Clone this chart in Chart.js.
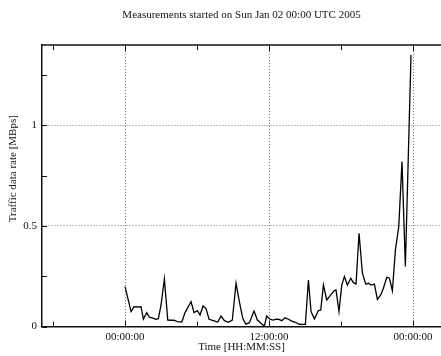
<!DOCTYPE html>
<html>
<head>
<meta charset="utf-8">
<script src="https://cdn.jsdelivr.net/npm/chart.js@4"></script>
<style>
  html, body { margin: 0; padding: 0; background: #fff; overflow: hidden; }
</style>
</head>
<body>
<canvas id="traffic" width="441" height="356"></canvas>
<script>
const chartTitle = 'Measurements started on Sun Jan 02 00:00 UTC 2005'
const xTitle = 'Time [HH:MM:SS]'
const yTitle = 'Traffic data rate [MBps]'

// hours since the first 00:00:00
const sampleHours = [
  0, 0.5, 0.75, 1.04, 1.33, 1.53, 1.81, 2.03, 2.33, 2.56, 2.78, 3.0, 3.28, 3.56, 3.83,
  4.08, 4.36, 4.73, 5.0, 5.5, 5.75, 6.03, 6.25, 6.5, 6.75, 7.0, 7.36, 7.73, 8.0, 8.28,
  8.61, 8.94, 9.25, 9.53, 9.81, 10.06, 10.36, 10.75, 11.03, 11.39, 11.61, 11.81, 12.08, 12.36, 12.58,
  12.78, 13.06, 13.33, 13.61, 13.89, 14.17, 14.53, 15.03, 15.28, 15.5, 15.78, 16.11, 16.31, 16.53, 16.81,
  17.08, 17.42, 17.58, 17.83, 18.06, 18.28, 18.53, 18.81, 19.03, 19.25, 19.5, 19.78, 20.06, 20.28, 20.5,
  20.78, 21.03, 21.31, 21.53, 21.81, 22.03, 22.28, 22.53, 22.81, 23.08, 23.36, 23.83
]
const rateMBps = [
  0.198, 0.074, 0.099, 0.097, 0.099, 0.037, 0.069, 0.046, 0.042, 0.036, 0.039, 0.107, 0.236, 0.032, 0.031,
  0.031, 0.024, 0.022, 0.069, 0.123, 0.069, 0.079, 0.057, 0.102, 0.089, 0.036, 0.029, 0.022, 0.052, 0.029,
  0.021, 0.032, 0.215, 0.123, 0.041, 0.012, 0.019, 0.077, 0.032, 0.012, 0.002, 0.052, 0.036, 0.032, 0.037,
  0.036, 0.029, 0.044, 0.036, 0.027, 0.021, 0.011, 0.011, 0.231, 0.074, 0.037, 0.079, 0.082, 0.206, 0.132,
  0.152, 0.178, 0.182, 0.074, 0.206, 0.248, 0.206, 0.240, 0.218, 0.211, 0.464, 0.265, 0.211, 0.215, 0.206,
  0.211, 0.135, 0.157, 0.190, 0.245, 0.240, 0.178, 0.381, 0.497, 0.820, 0.298, 1.350
]

const xTicks = [-6, 0, 6, 12, 18, 24]
const xLabelled = [0, 12, 24]
const yTicks = [0, 0.25, 0.5, 0.75, 1, 1.25]
const yLabelled = [0, 0.5, 1]
const xRange = [-6.92, 26.33]
const yRange = [0, 1.4]

const pad2 = n => String(n).padStart(2, '0')
const hms = h => {
  const t = ((h % 24) + 24) % 24
  const hh = Math.floor(t)
  const mm = Math.round((t - hh) * 60)
  return `${pad2(hh)}:${pad2(mm)}:00`
}

const serif = { family: "'Liberation Serif', 'DejaVu Serif', serif", size: 11 }
const gridGrey = '#7a7a7a'

// top border, inward tick marks and the y title (sits a bit above plot centre in the original)
const framePlugin = {
  id: 'frame',
  afterDraw(chart) {
    const { ctx, chartArea: a, scales: { x, y } } = chart
    ctx.save()
    ctx.strokeStyle = '#111'
    ctx.lineWidth = 1.5
    ctx.beginPath()
    ctx.moveTo(a.left, a.top)
    ctx.lineTo(a.right, a.top)
    ctx.stroke()
    ctx.lineWidth = 1
    ctx.beginPath()
    xTicks.forEach(v => {
      const px = Math.round(x.getPixelForValue(v)) + 0.5
      const len = xLabelled.includes(v) ? 6 : 5
      ctx.moveTo(px, a.top); ctx.lineTo(px, a.top + len)
      ctx.moveTo(px, a.bottom); ctx.lineTo(px, a.bottom - len)
    })
    yTicks.forEach(v => {
      const py = Math.round(y.getPixelForValue(v)) + 0.5
      ctx.moveTo(a.left, py); ctx.lineTo(a.left + 5, py)
    })
    ctx.stroke()

    ctx.translate(13, (a.top + a.bottom) / 2 - 17)
    ctx.rotate(-Math.PI / 2)
    ctx.fillStyle = '#111'
    ctx.font = `${serif.size}px ${serif.family}`
    ctx.textAlign = 'center'
    ctx.textBaseline = 'middle'
    ctx.fillText(yTitle, 0, 0)
    ctx.restore()
  }
}

new Chart(document.getElementById('traffic'), {
  type: 'line',
  data: {
    datasets: [{
      data: sampleHours.map((h, i) => ({ x: h, y: rateMBps[i] })),
      borderColor: '#000',
      borderWidth: 1.3,
      pointRadius: 0,
      tension: 0,
      fill: false,
    }]
  },
  options: {
    responsive: false,
    devicePixelRatio: 1,
    animation: false,
    layout: { padding: 0 },
    plugins: {
      legend: { display: false },
      tooltip: { enabled: false },
      title: {
        display: true,
        text: chartTitle,
        fullSize: false,
        color: '#111',
        font: { ...serif, weight: 'normal' },
        padding: { top: 9, bottom: 22.8 },
      },
    },
    scales: {
      x: {
        type: 'linear',
        min: xRange[0],
        max: xRange[1],
        afterBuildTicks: s => { s.ticks = xTicks.map(v => ({ value: v })) },
        afterFit: s => { s.height = 29.5 },
        ticks: {
          color: '#111',
          font: serif,
          padding: 4,
          maxRotation: 0,
          autoSkip: false,
          callback: v => xLabelled.includes(v) ? hms(v) : '',
        },
        grid: {
          drawTicks: false,
          lineWidth: 1,
          color: c => xLabelled.includes(c.tick && c.tick.value) ? gridGrey : 'rgba(0,0,0,0)',
        },
        border: { display: true, color: '#111', width: 1.5, dash: [1, 2] },
        title: { display: true, text: xTitle, color: '#111', font: serif, padding: { top: 0, bottom: 2 } },
      },
      y: {
        type: 'linear',
        min: yRange[0],
        max: yRange[1],
        afterBuildTicks: s => { s.ticks = yTicks.map(v => ({ value: v })) },
        afterFit: s => { s.width = 42 },
        ticks: {
          color: '#111',
          font: serif,
          padding: 5,
          autoSkip: false,
          callback: v => yLabelled.includes(v) ? String(v) : '',
        },
        grid: {
          drawTicks: false,
          lineWidth: 1,
          color: c => [0.5, 1].includes(c.tick && c.tick.value) ? gridGrey : 'rgba(0,0,0,0)',
        },
        border: { display: true, color: '#111', width: 1.5, dash: [1, 2] },
        title: { display: false },
      }
    }
  },
  plugins: [framePlugin]
})
</script>
</body>
</html>
